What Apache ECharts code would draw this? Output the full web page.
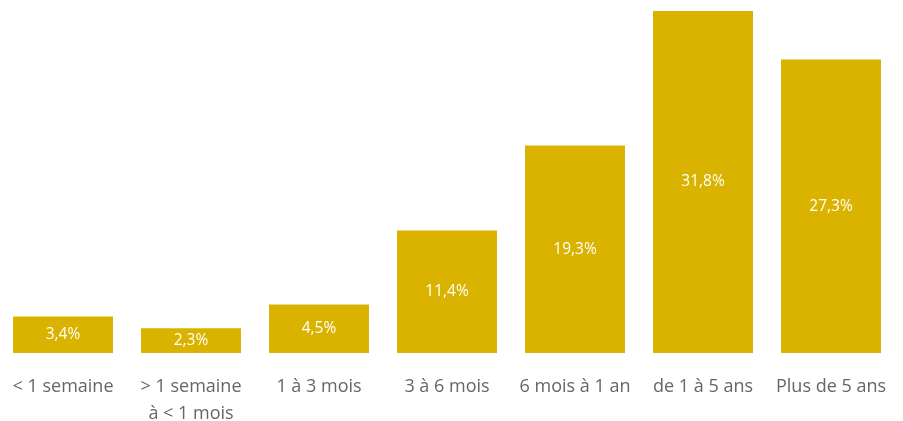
<!DOCTYPE html>
<html><head><meta charset="utf-8">
<script src="https://cdn.jsdelivr.net/npm/echarts@6/dist/echarts.min.js"></script>
<style>html,body{margin:0;padding:0;background:#fff}#c{width:903px;height:421px}</style>
</head><body><div id="c"></div>
<script>
const categories = ['< 1 semaine', '> 1 semaine\nà < 1 mois', '1 à 3 mois', '3 à 6 mois', '6 mois à 1 an', 'de 1 à 5 ans', 'Plus de 5 ans'];
const values = [3.4, 2.3, 4.5, 11.4, 19.3, 31.8, 27.3];
const font = '"Open Sans", "Noto Sans", sans-serif';
const chart = echarts.init(document.getElementById('c'), null, {renderer: 'canvas'});
chart.setOption({
  animation: false,
  grid: {left: -1, width: 896, top: 11, bottom: 68, containLabel: false, outerBoundsMode: 'none'},
  xAxis: {
    type: 'category', data: categories,
    axisLine: {show: false}, axisTick: {show: false},
    axisLabel: {color: '#666666', fontFamily: font, fontSize: 18, margin: 20, lineHeight: 27, interval: 0, verticalAlign: 'top'}
  },
  yAxis: {type: 'value', min: 0, max: 31.8, show: false, splitLine: {show: false}},
  series: [{
    type: 'bar', data: values, barWidth: 100,
    itemStyle: {color: '#D9B300'},
    label: {show: true, position: 'inside', color: '#ffffff', fontFamily: font, fontSize: 15.5,
      formatter: p => String(p.value.toFixed(1)).replace('.', ',') + '%'}
  }]
});
</script></body></html>
